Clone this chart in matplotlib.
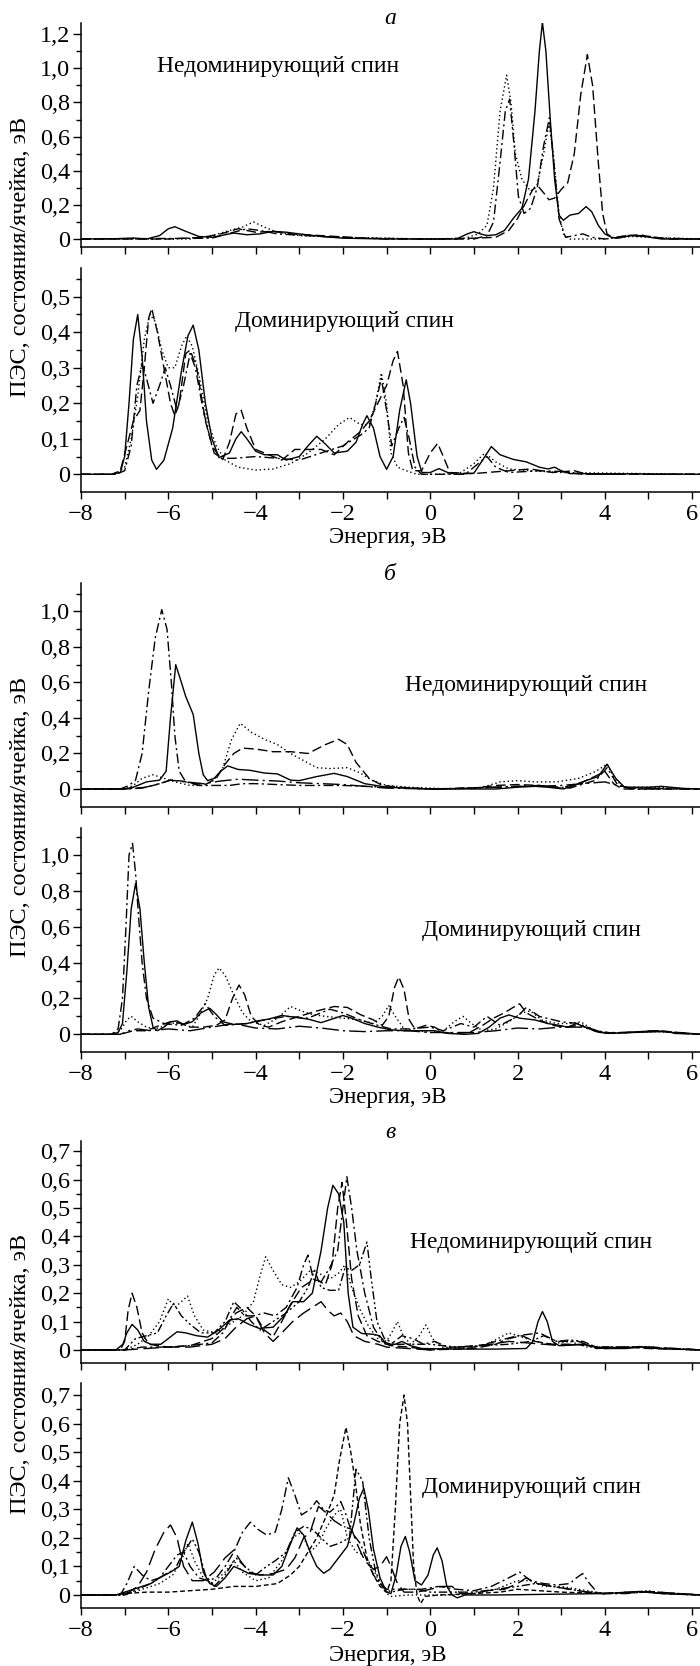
import matplotlib
matplotlib.use('Agg')
import matplotlib.pyplot as plt
from matplotlib.ticker import MultipleLocator, FuncFormatter

plt.rcParams['font.family'] = ['Liberation Serif', 'DejaVu Serif']

# (energy, eV ; DOS, states/cell/eV) points
# --- a, minority spin
a_top_solid = [(-8,0),(-7.2,0.002),(-6.8,0.006),(-6.5,0.0),(-6.2,0.02),(-6.0,0.06),(-5.85,0.072),(-5.6,0.045),(-5.3,0.015),(-5.0,0.01),(-4.7,0.025),(-4.5,0.035),(-4.2,0.025),(-3.9,0.03),(-3.6,0.045),(-3.3,0.04),(-3.0,0.03),(-2.5,0.015),(-2.0,0.005),(-1.0,0.0),(0.6,0.0),(0.85,0.03),(1.0,0.043),(1.15,0.03),(1.3,0.02),(1.5,0.025),(1.7,0.05),(1.9,0.12),(2.1,0.18),(2.25,0.35),(2.4,0.75),(2.5,1.1),(2.57,1.27),(2.65,1.1),(2.75,0.7),(2.85,0.35),(2.95,0.14),(3.05,0.11),(3.2,0.14),(3.4,0.15),(3.57,0.19),(3.7,0.16),(3.85,0.08),(4.0,0.03),(4.15,0.01),(4.3,0.005),(4.6,0.02),(4.9,0.015),(5.3,0.0),(6.2,0.0)]
a_top_dash = [(-8,0),(-6.0,0.0),(-5.2,0.01),(-4.8,0.03),(-4.4,0.06),(-4.0,0.04),(-3.6,0.045),(-3.2,0.03),(-2.5,0.02),(-1.5,0.005),(0,0),(1.0,0.005),(1.5,0.01),(1.8,0.05),(2.0,0.12),(2.2,0.22),(2.35,0.29),(2.47,0.31),(2.6,0.27),(2.72,0.23),(2.85,0.24),(3.0,0.29),(3.15,0.33),(3.3,0.5),(3.45,0.85),(3.6,1.08),(3.72,0.9),(3.85,0.45),(3.95,0.15),(4.05,0.03),(4.2,0.005),(4.5,0.02),(4.8,0.025),(5.1,0.01),(5.5,0.0),(6.2,0.0)]
a_top_dot = [(-8,0),(-5.5,0.0),(-5.0,0.02),(-4.6,0.05),(-4.3,0.07),(-4.05,0.1),(-3.8,0.07),(-3.5,0.04),(-3.0,0.02),(-2.0,0.01),(0,0),(0.8,0.005),(1.1,0.03),(1.3,0.08),(1.45,0.3),(1.6,0.75),(1.75,0.96),(1.85,0.8),(1.95,0.5),(2.1,0.35),(2.3,0.28),(2.45,0.32),(2.6,0.5),(2.72,0.68),(2.82,0.5),(2.95,0.15),(3.05,0.03),(3.2,0.0),(4,0),(4.6,0.015),(5.0,0.01),(6.2,0)]
a_top_dashdot = [(-8,0),(-5.0,0.005),(-4.5,0.04),(-4.2,0.06),(-3.9,0.05),(-3.5,0.03),(-2.5,0.015),(-1.0,0.0),(1.0,0.0),(1.3,0.02),(1.45,0.1),(1.6,0.45),(1.72,0.75),(1.82,0.82),(1.92,0.55),(2.02,0.25),(2.15,0.15),(2.3,0.18),(2.45,0.3),(2.6,0.55),(2.73,0.71),(2.85,0.4),(2.95,0.12),(3.1,0.01),(3.3,0.02),(3.5,0.03),(3.7,0.01),(4.0,0.0),(4.5,0.02),(4.9,0.02),(5.3,0.005),(6.2,0)]

# --- a, majority spin
a_bot_solid = [(-8,0),(-7.3,0),(-7.1,0.005),(-7.0,0.05),(-6.9,0.2),(-6.8,0.38),(-6.7,0.45),(-6.6,0.33),(-6.5,0.15),(-6.38,0.04),(-6.27,0.014),(-6.1,0.04),(-5.9,0.13),(-5.7,0.29),(-5.55,0.39),(-5.43,0.42),(-5.3,0.35),(-5.15,0.2),(-5.0,0.1),(-4.84,0.047),(-4.6,0.06),(-4.45,0.1),(-4.33,0.12),(-4.2,0.1),(-4.0,0.065),(-3.8,0.055),(-3.5,0.055),(-3.3,0.04),(-3.0,0.05),(-2.8,0.08),(-2.6,0.107),(-2.4,0.085),(-2.2,0.06),(-1.9,0.065),(-1.7,0.09),(-1.55,0.14),(-1.45,0.165),(-1.3,0.13),(-1.15,0.05),(-1.0,0.014),(-0.85,0.05),(-0.7,0.18),(-0.55,0.266),(-0.45,0.2),(-0.3,0.05),(-0.19,0.005),(0.0,0.005),(0.2,0.016),(0.4,0.005),(0.6,0.0),(1.0,0.003),(1.2,0.04),(1.4,0.078),(1.6,0.055),(1.9,0.042),(2.2,0.035),(2.5,0.02),(2.7,0.015),(2.85,0.02),(3.0,0.01),(3.2,0.002),(6.2,0)]
a_bot_dash = [(-8,0),(-7.3,0),(-7.1,0.01),(-6.95,0.08),(-6.8,0.15),(-6.65,0.18),(-6.55,0.3),(-6.45,0.44),(-6.38,0.467),(-6.25,0.4),(-6.1,0.3),(-5.95,0.2),(-5.85,0.165),(-5.75,0.2),(-5.6,0.34),(-5.5,0.35),(-5.35,0.3),(-5.15,0.15),(-4.95,0.06),(-4.75,0.042),(-4.6,0.09),(-4.45,0.17),(-4.33,0.18),(-4.2,0.13),(-4.0,0.07),(-3.7,0.055),(-3.4,0.04),(-3.1,0.07),(-2.8,0.07),(-2.5,0.07),(-2.2,0.055),(-1.9,0.09),(-1.6,0.12),(-1.4,0.15),(-1.2,0.2),(-1.0,0.25),(-0.85,0.32),(-0.75,0.346),(-0.62,0.25),(-0.5,0.06),(-0.4,0.01),(-0.2,0.01),(0.0,0.06),(0.17,0.087),(0.3,0.05),(0.45,0.005),(1.0,0.002),(1.3,0.005),(1.8,0.01),(2.3,0.015),(2.8,0.005),(3.3,0.01),(3.6,0.0),(6.2,0)]
a_bot_dot = [(-8,0),(-7.2,0),(-7.0,0.02),(-6.85,0.1),(-6.7,0.22),(-6.55,0.38),(-6.42,0.45),(-6.3,0.43),(-6.15,0.35),(-6.0,0.3),(-5.85,0.3),(-5.7,0.36),(-5.58,0.39),(-5.45,0.36),(-5.3,0.28),(-5.1,0.15),(-4.9,0.08),(-4.7,0.04),(-4.4,0.02),(-4.0,0.012),(-3.6,0.015),(-3.2,0.03),(-2.8,0.06),(-2.4,0.1),(-2.1,0.14),(-1.85,0.16),(-1.6,0.14),(-1.4,0.14),(-1.25,0.2),(-1.12,0.285),(-1.0,0.2),(-0.9,0.06),(-0.75,0.02),(-0.55,0.01),(-0.3,0.0),(0.3,0.0),(0.7,0.005),(1.0,0.03),(1.25,0.06),(1.5,0.035),(1.8,0.015),(2.3,0.01),(3.0,0.005),(6.2,0)]
a_bot_dashdot = [(-8,0),(-7.2,0),(-7.0,0.01),(-6.85,0.08),(-6.72,0.25),(-6.6,0.31),(-6.5,0.27),(-6.35,0.2),(-6.2,0.25),(-6.07,0.3),(-5.95,0.25),(-5.8,0.18),(-5.65,0.25),(-5.5,0.34),(-5.38,0.3),(-5.2,0.18),(-5.0,0.08),(-4.8,0.045),(-4.5,0.045),(-4.0,0.05),(-3.5,0.045),(-3.0,0.04),(-2.5,0.06),(-2.0,0.08),(-1.6,0.11),(-1.4,0.13),(-1.25,0.2),(-1.12,0.27),(-1.0,0.18),(-0.88,0.08),(-0.72,0.13),(-0.6,0.16),(-0.48,0.1),(-0.35,0.02),(-0.2,0.0),(0.8,0.0),(1.1,0.03),(1.3,0.05),(1.5,0.02),(1.8,0.005),(2.5,0.01),(3.0,0.008),(3.5,0.0),(6.2,0)]

# --- б, minority spin
b_top_solid = [(-8,0),(-7.0,0),(-6.8,0.01),(-6.5,0.04),(-6.2,0.05),(-6.05,0.1),(-5.95,0.4),(-5.83,0.7),(-5.7,0.6),(-5.6,0.52),(-5.43,0.42),(-5.3,0.2),(-5.2,0.08),(-5.1,0.047),(-4.95,0.06),(-4.8,0.1),(-4.64,0.13),(-4.4,0.11),(-4.12,0.105),(-3.8,0.09),(-3.5,0.085),(-3.2,0.05),(-3.0,0.047),(-2.6,0.07),(-2.2,0.088),(-1.9,0.07),(-1.5,0.03),(-1.0,0.01),(-0.5,0.005),(0,0),(1.5,0.0),(2.0,0.01),(2.4,0.015),(2.7,0.01),(3.05,0.0),(3.3,0.02),(3.6,0.05),(3.85,0.07),(4.05,0.14),(4.25,0.06),(4.45,0.01),(5.0,0.01),(5.3,0.015),(5.8,0.003),(6.2,0)]
b_top_dashdot = [(-8,0),(-7.1,0),(-6.9,0.02),(-6.75,0.05),(-6.6,0.2),(-6.45,0.55),(-6.3,0.85),(-6.15,1.01),(-6.03,0.9),(-5.93,0.6),(-5.85,0.3),(-5.75,0.1),(-5.6,0.04),(-5.3,0.02),(-5.0,0.02),(-4.6,0.02),(-4.3,0.03),(-4.0,0.03),(-3.0,0.02),(-2.0,0.02),(-1.0,0.01),(0,0),(1.5,0.01),(2.5,0.02),(3.2,0.005),(3.8,0.05),(4.05,0.12),(4.3,0.02),(4.6,0.0),(6.2,0)]
b_top_dash = [(-8,0),(-7.0,0),(-6.5,0.01),(-6.2,0.03),(-5.95,0.05),(-5.7,0.045),(-5.4,0.03),(-5.15,0.025),(-4.9,0.06),(-4.7,0.14),(-4.5,0.2),(-4.3,0.23),(-4.0,0.225),(-3.6,0.21),(-3.2,0.21),(-2.8,0.2),(-2.4,0.25),(-2.1,0.28),(-1.9,0.25),(-1.7,0.15),(-1.4,0.06),(-1.1,0.02),(-0.7,0.01),(0,0.0),(1.0,0.005),(1.5,0.02),(2.0,0.025),(2.5,0.02),(3.0,0.005),(3.5,0.04),(3.85,0.08),(4.0,0.1),(4.2,0.03),(4.4,0.0),(6.2,0)]
b_top_dot = [(-8,0),(-7.0,0),(-6.8,0.02),(-6.6,0.06),(-6.35,0.08),(-6.1,0.06),(-5.85,0.04),(-5.5,0.02),(-5.2,0.02),(-4.95,0.05),(-4.75,0.12),(-4.55,0.28),(-4.35,0.37),(-4.1,0.32),(-3.8,0.28),(-3.5,0.25),(-3.2,0.2),(-2.9,0.16),(-2.6,0.12),(-2.3,0.115),(-1.9,0.12),(-1.6,0.09),(-1.35,0.05),(-1.0,0.02),(-0.5,0.01),(0,0.005),(0.5,0.0),(1.2,0.01),(1.6,0.04),(2.0,0.047),(2.4,0.04),(2.9,0.04),(3.4,0.06),(3.8,0.1),(4.05,0.14),(4.25,0.05),(4.45,0.01),(5.0,0.01),(6.2,0)]
b_top_ldash = [(-8,0),(-7.0,0),(-6.6,0.005),(-6.2,0.03),(-5.95,0.05),(-5.6,0.04),(-5.2,0.03),(-4.8,0.045),(-4.4,0.055),(-4.0,0.05),(-3.5,0.045),(-3.0,0.035),(-2.5,0.03),(-2.0,0.025),(-1.5,0.015),(-1.0,0.005),(0,0),(1.0,0.005),(1.5,0.01),(2.0,0.015),(2.5,0.015),(3.0,0.02),(3.5,0.03),(4.0,0.04),(4.3,0.02),(4.6,0.005),(6.2,0)]

# --- б, majority spin
b_bot_solid = [(-8,0),(-7.3,0),(-7.15,0.01),(-7.05,0.06),(-6.95,0.35),(-6.85,0.7),(-6.75,0.84),(-6.65,0.7),(-6.55,0.4),(-6.45,0.15),(-6.35,0.04),(-6.25,0.02),(-6.1,0.04),(-5.95,0.07),(-5.8,0.075),(-5.65,0.055),(-5.45,0.07),(-5.25,0.12),(-5.05,0.145),(-4.9,0.11),(-4.75,0.07),(-4.5,0.055),(-4.2,0.06),(-3.95,0.075),(-3.7,0.085),(-3.4,0.105),(-3.1,0.095),(-2.8,0.085),(-2.5,0.065),(-2.25,0.085),(-2.0,0.105),(-1.8,0.09),(-1.5,0.06),(-1.2,0.04),(-0.9,0.025),(-0.6,0.02),(-0.2,0.02),(0.1,0.02),(0.4,0.005),(0.8,0.0),(1.1,0.005),(1.35,0.04),(1.6,0.09),(1.8,0.108),(2.05,0.09),(2.4,0.08),(2.7,0.06),(2.95,0.05),(3.15,0.04),(3.35,0.06),(3.55,0.04),(3.8,0.015),(4.1,0.005),(4.6,0.01),(5.3,0.015),(5.8,0.005),(6.2,0)]
b_bot_dashdot = [(-8,0),(-7.3,0),(-7.15,0.03),(-7.05,0.2),(-6.97,0.6),(-6.9,1.0),(-6.82,1.065),(-6.75,0.9),(-6.68,0.65),(-6.6,0.4),(-6.5,0.2),(-6.35,0.09),(-6.1,0.06),(-5.7,0.05),(-5.4,0.09),(-5.15,0.17),(-4.95,0.1),(-4.7,0.05),(-4.2,0.06),(-3.8,0.08),(-3.3,0.1),(-2.8,0.09),(-2.3,0.14),(-2.0,0.12),(-1.6,0.08),(-1.2,0.05),(-0.9,0.03),(-0.5,0.03),(0,0.04),(0.3,0.02),(0.7,0.06),(1.0,0.04),(1.3,0.1),(1.6,0.05),(2.0,0.1),(2.2,0.15),(2.5,0.1),(3.0,0.07),(3.4,0.06),(3.8,0.02),(4.2,0.005),(5.2,0.02),(6.2,0)]
b_bot_dot = [(-8,0),(-7.3,0),(-7.1,0.02),(-6.95,0.08),(-6.85,0.1),(-6.7,0.07),(-6.5,0.04),(-6.3,0.03),(-6.05,0.05),(-5.85,0.065),(-5.6,0.05),(-5.45,0.04),(-5.3,0.1),(-5.1,0.2),(-4.95,0.33),(-4.84,0.37),(-4.7,0.33),(-4.5,0.22),(-4.3,0.12),(-4.1,0.07),(-3.8,0.05),(-3.5,0.09),(-3.2,0.155),(-2.95,0.13),(-2.7,0.11),(-2.4,0.1),(-2.0,0.09),(-1.6,0.08),(-1.3,0.06),(-1.1,0.1),(-0.95,0.16),(-0.8,0.1),(-0.6,0.03),(-0.3,0.02),(0.0,0.01),(0.3,0.02),(0.55,0.07),(0.75,0.1),(0.95,0.06),(1.2,0.02),(1.5,0.03),(1.8,0.07),(2.1,0.12),(2.3,0.13),(2.55,0.08),(2.9,0.06),(3.2,0.06),(3.45,0.07),(3.7,0.03),(4.0,0.005),(4.6,0.01),(5.2,0.015),(6.2,0)]
b_bot_dash = [(-8,0),(-7.1,0),(-6.8,0.02),(-6.5,0.02),(-6.2,0.05),(-5.95,0.07),(-5.7,0.06),(-5.5,0.04),(-5.2,0.04),(-4.9,0.05),(-4.7,0.08),(-4.53,0.2),(-4.38,0.275),(-4.25,0.22),(-4.1,0.1),(-3.9,0.05),(-3.7,0.04),(-3.4,0.07),(-3.0,0.1),(-2.6,0.13),(-2.2,0.155),(-1.9,0.15),(-1.6,0.11),(-1.3,0.08),(-1.1,0.05),(-0.95,0.1),(-0.82,0.26),(-0.72,0.32),(-0.6,0.25),(-0.48,0.08),(-0.35,0.03),(-0.1,0.05),(0.1,0.04),(0.3,0.01),(0.6,0.005),(0.9,0.01),(1.2,0.05),(1.45,0.09),(1.7,0.12),(1.9,0.15),(2.05,0.17),(2.2,0.12),(2.5,0.08),(2.8,0.05),(3.1,0.04),(3.4,0.05),(3.7,0.03),(4.0,0.005),(5.2,0.02),(6.2,0)]
b_bot_ldashdot = [(-8,0),(-7.1,0),(-6.9,0.02),(-6.7,0.03),(-6.4,0.02),(-6.0,0.03),(-5.5,0.02),(-5.0,0.04),(-4.5,0.06),(-4.0,0.035),(-3.5,0.03),(-3.0,0.045),(-2.5,0.035),(-2.0,0.02),(-1.5,0.015),(-1.0,0.02),(-0.5,0.02),(0,0.01),(0.5,0.01),(1.0,0.01),(1.5,0.02),(2.0,0.035),(2.5,0.03),(3.0,0.04),(3.5,0.04),(3.9,0.01),(4.5,0.01),(5.2,0.02),(5.6,0.005),(6.2,0)]

# --- в, minority spin
c_top_solid = [(-8,0),(-7.2,0),(-7.04,0.02),(-6.95,0.06),(-6.83,0.09),(-6.7,0.07),(-6.55,0.03),(-6.4,0.02),(-6.17,0.02),(-6.0,0.04),(-5.8,0.064),(-5.6,0.06),(-5.35,0.05),(-5.1,0.045),(-4.85,0.07),(-4.6,0.105),(-4.4,0.11),(-4.15,0.09),(-3.92,0.076),(-3.6,0.08),(-3.35,0.12),(-3.15,0.17),(-2.9,0.17),(-2.7,0.2),(-2.5,0.35),(-2.35,0.5),(-2.23,0.58),(-2.1,0.55),(-1.98,0.45),(-1.88,0.2),(-1.77,0.08),(-1.57,0.058),(-1.3,0.055),(-1.16,0.05),(-1.0,0.02),(-0.8,0.02),(-0.65,0.03),(-0.45,0.015),(-0.2,0.005),(0.5,0.003),(1.5,0.003),(2.2,0.005),(2.35,0.03),(2.47,0.1),(2.57,0.135),(2.68,0.1),(2.8,0.03),(2.95,0.015),(3.5,0.02),(4.0,0.005),(4.5,0.005),(4.8,0.012),(5.2,0.005),(6.2,0)]
c_top_dash = [(-8,0),(-7.1,0),(-7.0,0.03),(-6.92,0.14),(-6.83,0.2),(-6.72,0.15),(-6.6,0.06),(-6.45,0.02),(-6.0,0.01),(-5.5,0.015),(-5.0,0.04),(-4.7,0.08),(-4.45,0.13),(-4.2,0.15),(-4.0,0.12),(-3.8,0.07),(-3.6,0.047),(-3.4,0.1),(-3.2,0.16),(-2.95,0.22),(-2.75,0.24),(-2.59,0.246),(-2.4,0.23),(-2.25,0.3),(-2.12,0.5),(-2.02,0.59),(-1.92,0.45),(-1.8,0.25),(-1.65,0.12),(-1.45,0.05),(-1.2,0.03),(-0.9,0.015),(-0.5,0.01),(0,0.0),(1.0,0.005),(1.5,0.02),(1.8,0.04),(2.1,0.05),(2.4,0.03),(2.8,0.02),(3.3,0.02),(3.8,0.01),(4.5,0.01),(5.0,0.005),(6.2,0)]
c_top_dot = [(-8,0),(-7.0,0),(-6.7,0.02),(-6.45,0.05),(-6.2,0.1),(-6.0,0.18),(-5.85,0.15),(-5.7,0.17),(-5.56,0.19),(-5.4,0.12),(-5.2,0.07),(-4.9,0.06),(-4.6,0.09),(-4.3,0.12),(-4.05,0.17),(-3.9,0.26),(-3.77,0.328),(-3.6,0.28),(-3.4,0.23),(-3.2,0.22),(-3.0,0.24),(-2.75,0.28),(-2.55,0.27),(-2.3,0.25),(-2.1,0.27),(-1.95,0.3),(-1.8,0.22),(-1.6,0.14),(-1.4,0.08),(-1.2,0.04),(-1.0,0.03),(-0.85,0.07),(-0.75,0.1),(-0.62,0.05),(-0.45,0.02),(-0.25,0.05),(-0.1,0.088),(0.05,0.04),(0.25,0.01),(0.8,0.005),(1.3,0.02),(1.8,0.06),(2.2,0.04),(2.7,0.02),(3.2,0.03),(3.6,0.01),(4.5,0.01),(5.0,0.012),(5.5,0.003),(6.2,0)]
c_top_dashdot = [(-8,0),(-7.0,0),(-6.6,0.01),(-6.0,0.01),(-5.5,0.015),(-5.0,0.025),(-4.75,0.06),(-4.55,0.12),(-4.43,0.15),(-4.25,0.12),(-4.05,0.12),(-3.8,0.13),(-3.55,0.12),(-3.3,0.15),(-3.05,0.22),(-2.9,0.3),(-2.8,0.334),(-2.68,0.25),(-2.5,0.24),(-2.3,0.29),(-2.12,0.35),(-2.0,0.5),(-1.91,0.61),(-1.8,0.5),(-1.68,0.35),(-1.5,0.2),(-1.3,0.08),(-1.1,0.03),(-0.9,0.02),(-0.65,0.05),(-0.4,0.04),(-0.15,0.02),(0.1,0.03),(0.4,0.01),(1.0,0.01),(1.5,0.03),(2.0,0.05),(2.5,0.06),(2.9,0.03),(3.4,0.03),(3.8,0.005),(4.5,0.01),(5.0,0.01),(6.2,0)]
c_top_dashdotdot = [(-8,0),(-7.0,0),(-6.75,0.04),(-6.5,0.05),(-6.25,0.06),(-6.05,0.12),(-5.88,0.164),(-5.7,0.12),(-5.5,0.09),(-5.25,0.06),(-4.95,0.06),(-4.7,0.1),(-4.5,0.17),(-4.3,0.14),(-4.1,0.1),(-3.9,0.07),(-3.6,0.1),(-3.3,0.13),(-3.0,0.17),(-2.8,0.22),(-2.65,0.28),(-2.5,0.22),(-2.3,0.21),(-2.1,0.21),(-1.95,0.29),(-1.8,0.28),(-1.62,0.3),(-1.45,0.38),(-1.35,0.25),(-1.22,0.1),(-1.05,0.04),(-0.8,0.02),(-0.4,0.02),(0,0.02),(0.6,0.01),(1.2,0.015),(1.8,0.02),(2.3,0.03),(2.6,0.05),(2.9,0.03),(3.2,0.035),(3.5,0.03),(3.8,0.01),(4.6,0.01),(6.2,0)]
c_top_ldash = [(-8,0),(-7.0,0),(-6.5,0.005),(-6.0,0.01),(-5.5,0.01),(-5.0,0.02),(-4.7,0.04),(-4.45,0.08),(-4.2,0.11),(-4.0,0.12),(-3.8,0.06),(-3.6,0.03),(-3.4,0.06),(-3.15,0.1),(-2.9,0.13),(-2.7,0.15),(-2.5,0.17),(-2.35,0.14),(-2.2,0.12),(-2.05,0.13),(-1.9,0.1),(-1.75,0.05),(-1.5,0.03),(-1.2,0.02),(-1.0,0.01),(0,0),(1.0,0.015),(1.4,0.02),(1.8,0.03),(2.2,0.025),(2.6,0.02),(3.0,0.015),(3.5,0.02),(4.0,0.005),(5.0,0.01),(6.2,0)]

# --- в, majority spin
c_bot_sdash = [(-8,0),(-7.2,0),(-7.0,0.005),(-6.5,0.01),(-6.0,0.01),(-5.5,0.015),(-5.0,0.02),(-4.5,0.03),(-4.0,0.03),(-3.5,0.04),(-3.2,0.07),(-3.0,0.1),(-2.8,0.15),(-2.6,0.2),(-2.4,0.27),(-2.2,0.35),(-2.08,0.47),(-1.93,0.587),(-1.82,0.5),(-1.72,0.4),(-1.6,0.25),(-1.45,0.13),(-1.3,0.07),(-1.15,0.03),(-1.0,0.01),(-0.9,0.05),(-0.8,0.3),(-0.7,0.6),(-0.6,0.7),(-0.52,0.6),(-0.45,0.35),(-0.38,0.1),(-0.3,0.0),(-0.22,-0.03),(-0.12,-0.005),(0.2,0.0),(1.0,0.005),(1.6,0.01),(2.0,0.02),(2.5,0.015),(3.0,0.01),(4.0,0.005),(4.8,0.012),(5.3,0.005),(6.2,0)]
c_bot_solid = [(-8,0),(-7.2,0),(-7.0,0.01),(-6.8,0.02),(-6.6,0.03),(-6.4,0.04),(-6.2,0.06),(-5.95,0.08),(-5.75,0.1),(-5.6,0.19),(-5.45,0.255),(-5.32,0.18),(-5.2,0.08),(-5.05,0.04),(-4.9,0.03),(-4.7,0.06),(-4.5,0.1),(-4.35,0.09),(-4.15,0.075),(-3.9,0.07),(-3.6,0.07),(-3.4,0.1),(-3.2,0.18),(-3.05,0.235),(-2.9,0.21),(-2.75,0.15),(-2.6,0.1),(-2.44,0.076),(-2.3,0.09),(-2.1,0.13),(-1.9,0.17),(-1.75,0.25),(-1.62,0.34),(-1.52,0.373),(-1.42,0.3),(-1.3,0.16),(-1.15,0.06),(-1.0,0.01),(-0.9,0.005),(-0.78,0.07),(-0.67,0.17),(-0.57,0.205),(-0.47,0.15),(-0.35,0.05),(-0.2,0.035),(-0.05,0.07),(0.07,0.14),(0.16,0.165),(0.27,0.12),(0.38,0.03),(0.5,0.0),(0.62,-0.01),(0.8,0.0),(1.5,0.0),(2.5,0.002),(4.0,0.005),(4.8,0.012),(5.3,0.005),(6.2,0)]
c_bot_dashdot = [(-8,0),(-7.1,0),(-6.95,0.04),(-6.78,0.1),(-6.6,0.07),(-6.4,0.05),(-6.2,0.06),(-6.0,0.1),(-5.8,0.14),(-5.65,0.15),(-5.5,0.1),(-5.3,0.06),(-5.1,0.05),(-4.9,0.06),(-4.7,0.1),(-4.5,0.15),(-4.3,0.22),(-4.12,0.255),(-3.95,0.23),(-3.75,0.21),(-3.55,0.22),(-3.4,0.3),(-3.25,0.41),(-3.1,0.35),(-2.95,0.28),(-2.75,0.3),(-2.6,0.33),(-2.45,0.3),(-2.3,0.29),(-2.15,0.31),(-2.05,0.327),(-1.95,0.29),(-1.8,0.22),(-1.6,0.18),(-1.45,0.12),(-1.3,0.07),(-1.15,0.04),(-1.0,0.02),(-0.6,0.02),(-0.2,0.02),(0.2,0.03),(0.6,0.02),(1.0,0.015),(1.4,0.03),(1.8,0.06),(2.05,0.08),(2.3,0.05),(2.6,0.04),(2.9,0.035),(3.2,0.04),(3.35,0.06),(3.49,0.075),(3.65,0.04),(3.85,0.005),(4.5,0.005),(5.0,0.012),(6.2,0)]
c_bot_ldash = [(-8,0),(-7.1,0),(-6.9,0.01),(-6.7,0.03),(-6.5,0.08),(-6.3,0.16),(-6.1,0.22),(-5.95,0.245),(-5.8,0.2),(-5.65,0.1),(-5.45,0.05),(-5.2,0.05),(-4.95,0.08),(-4.7,0.13),(-4.5,0.157),(-4.35,0.12),(-4.15,0.08),(-3.9,0.07),(-3.6,0.075),(-3.3,0.09),(-3.1,0.13),(-2.9,0.2),(-2.75,0.22),(-2.56,0.31),(-2.4,0.29),(-2.2,0.26),(-2.0,0.24),(-1.8,0.23),(-1.65,0.17),(-1.5,0.12),(-1.3,0.09),(-1.15,0.1),(-1.0,0.134),(-0.9,0.1),(-0.75,0.04),(-0.6,0.01),(-0.3,0.01),(0.0,0.02),(0.25,0.03),(0.5,0.03),(0.7,0.005),(1.0,0.005),(1.3,0.015),(1.7,0.02),(2.0,0.04),(2.2,0.06),(2.45,0.04),(2.8,0.03),(3.2,0.02),(3.6,0.01),(4.0,0.005),(5.0,0.012),(6.2,0)]
c_bot_dot = [(-8,0),(-7.0,0),(-6.6,0.02),(-6.2,0.04),(-5.9,0.07),(-5.7,0.12),(-5.55,0.18),(-5.4,0.12),(-5.2,0.06),(-5.0,0.04),(-4.7,0.08),(-4.5,0.12),(-4.3,0.08),(-4.0,0.05),(-3.7,0.06),(-3.4,0.12),(-3.15,0.2),(-2.95,0.22),(-2.75,0.15),(-2.55,0.18),(-2.4,0.23),(-2.2,0.28),(-2.05,0.3),(-1.9,0.2),(-1.7,0.15),(-1.5,0.14),(-1.3,0.09),(-1.15,0.04),(-1.0,0.005),(-0.9,-0.005),(-0.5,0.0),(0.5,0.0),(1.0,0.005),(1.5,0.02),(2.0,0.05),(2.3,0.05),(2.6,0.03),(3.0,0.03),(3.4,0.02),(4.0,0.005),(5.0,0.015),(5.5,0.003),(6.2,0)]
c_bot_dashdotdot = [(-8,0),(-7.0,0),(-6.7,0.02),(-6.4,0.04),(-6.1,0.07),(-5.85,0.09),(-5.65,0.15),(-5.45,0.196),(-5.3,0.15),(-5.15,0.07),(-4.95,0.03),(-4.7,0.07),(-4.45,0.13),(-4.25,0.1),(-4.0,0.07),(-3.75,0.1),(-3.55,0.12),(-3.3,0.15),(-3.1,0.22),(-2.9,0.24),(-2.7,0.23),(-2.5,0.2),(-2.3,0.17),(-2.1,0.18),(-1.85,0.2),(-1.7,0.44),(-1.55,0.4),(-1.4,0.2),(-1.25,0.08),(-1.1,0.03),(-0.9,0.01),(-0.6,0.02),(-0.3,0.02),(0,0.01),(0.5,0.01),(1.0,0.01),(1.5,0.02),(2.0,0.03),(2.4,0.04),(2.8,0.03),(3.2,0.02),(3.6,0.01),(4.2,0.005),(5.0,0.01),(6.2,0)]

panel_letters = ['а', 'б', 'в']
minority_text = 'Недоминирующий спин'
majority_text = 'Доминирующий спин'
xlabel_text = 'Энергия, эВ'
ylabel_text = 'ПЭС, состояния/ячейка, эВ'

SOLID = '-'
DASH = (0, (7, 3))
LDASH = (0, (11, 4))
SDASH = (0, (3.5, 2))
DOT = (0, (1, 2))
DASHDOT = (0, (7, 2.5, 1.5, 2.5))
DASHDOTDOT = (0, (6, 2, 1.5, 2, 1.5, 2))
LDASHDOT = (0, (12, 3, 1.5, 3))

W, H = 700, 1666
fig = plt.figure(figsize=(W / 100, H / 100), dpi=100)

def px_rect(top, bottom, left=81, right=700):
    return [left / W, 1 - bottom / H, (right - left) / W, (bottom - top) / H]

def yfmt(v, pos):
    if abs(v) < 1e-9:
        return '0'
    return ('%.1f' % v).replace('.', ',')

def xfmt(v, pos):
    return ('%d' % round(v)).replace('-', '\u2212')

# (top px, bottom px, ylim, y step, curves, text, text pos, x labels)
panels = [
    (23.3, 246.7, (-0.045, 1.264), 0.2,
     [(a_top_solid, SOLID), (a_top_dash, DASH), (a_top_dot, DOT), (a_top_dashdot, DASHDOT)],
     minority_text, (-3.49, 1.01), False),
    (268.3, 491.7, (-0.049, 0.580), 0.1,
     [(a_bot_solid, SOLID), (a_bot_dash, DASH), (a_bot_dot, DOT), (a_bot_dashdot, DASHDOT)],
     majority_text, (-1.97, 0.43), True),
    (583.0, 806.7, (-0.0997, 1.16), 0.2,
     [(b_top_solid, SOLID), (b_top_dashdot, DASHDOT), (b_top_dash, DASH), (b_top_dot, DOT),
      (b_top_ldash, LDASHDOT)],
     minority_text, (2.19, 0.585), False),
    (828.3, 1051.7, (-0.097, 1.149), 0.2,
     [(b_bot_solid, SOLID), (b_bot_dashdot, DASHDOT), (b_bot_dot, DOT), (b_bot_dash, DASH),
      (b_bot_ldashdot, LDASHDOT)],
     majority_text, (2.31, 0.58), True),
    (1141.0, 1362.7, (-0.045, 0.736), 0.1,
     [(c_top_solid, SOLID), (c_top_dash, DASH), (c_top_dot, DOT), (c_top_dashdot, DASHDOT),
      (c_top_dashdotdot, DASHDOTDOT), (c_top_ldash, LDASH)],
     minority_text, (2.31, 0.377), False),
    (1383.3, 1607.7, (-0.0445, 0.741), 0.1,
     [(c_bot_sdash, SDASH), (c_bot_solid, SOLID), (c_bot_dashdot, DASHDOT), (c_bot_ldash, LDASH),
      (c_bot_dot, DOT), (c_bot_dashdotdot, DASHDOTDOT)],
     majority_text, (2.33, 0.378), True),
]

for top, bottom, ylim, ystep, curves, txt, tpos, xlab in panels:
    ax = fig.add_axes(px_rect(top, bottom))
    for pts, ls in curves:
        xs = [p[0] for p in pts]
        ys = [p[1] for p in pts]
        ax.plot(xs, ys, color='black', lw=1.0, linestyle=ls)
    ax.set_xlim(-8, 6.18)
    ax.set_ylim(*ylim)
    ax.spines['top'].set_visible(False)
    ax.spines['right'].set_visible(False)
    for s in ('left', 'bottom'):
        ax.spines[s].set_linewidth(1.1)
    ax.xaxis.set_major_locator(MultipleLocator(2))
    ax.xaxis.set_minor_locator(MultipleLocator(1))
    ax.yaxis.set_major_locator(MultipleLocator(ystep))
    ax.yaxis.set_minor_locator(MultipleLocator(ystep / 2))
    ax.yaxis.set_major_formatter(FuncFormatter(yfmt))
    ax.xaxis.set_major_formatter(FuncFormatter(xfmt))
    ax.tick_params(axis='both', which='both', direction='out', width=1.0, labelsize=17.5)
    ax.tick_params(axis='y', which='major', length=6, pad=2)
    ax.tick_params(axis='y', which='minor', length=3.5)
    ax.tick_params(axis='x', which='both', length=5, pad=4, labelbottom=xlab)
    ax.text(tpos[0], tpos[1], txt, ha='center', va='center', fontsize=17)

# panel letters
for letter, ypx in zip(panel_letters, [18, 575, 1132]):
    fig.text(390 / W, 1 - ypx / H, letter, ha='center', va='center', fontsize=17, style='italic')

# x axis titles
for ypx in [538, 1098, 1655]:
    fig.text(388 / W, 1 - ypx / H, xlabel_text, ha='center', va='center', fontsize=16.5)

# y axis titles (one per pair)
for ypx in [257, 817, 1374.5]:
    fig.text(21 / W, 1 - ypx / H, ylabel_text, ha='center', va='center', rotation=90, fontsize=17.5)

fig.savefig('out.png', dpi=100)
